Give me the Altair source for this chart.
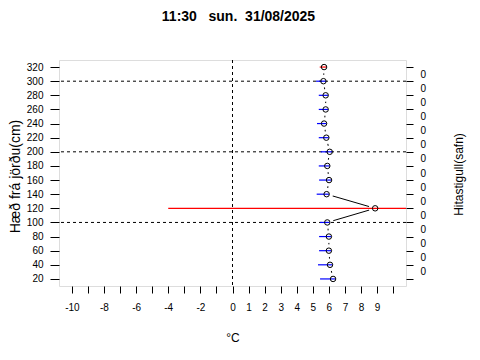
import altair as alt
import pandas as pd

# ---- data ----
heights = [320, 300, 280, 260, 240, 220, 200, 180, 160, 140, 120, 100, 80, 60, 40, 20]
temps = [5.70, 5.66, 5.80, 5.80, 5.70, 5.84, 6.05, 5.90, 6.01, 5.86, 8.88, 5.90, 6.00, 6.00, 6.07, 6.26]
seg_lo = [5.43, 5.20, 5.37, 5.37, 5.26, 5.37, 5.49, 5.37, 5.39, 5.24, -4.0, 5.45, 5.39, 5.39, 5.32, 5.45]
seg_hi = [5.85, 5.81, 5.95, 5.95, 5.85, 5.99, 6.20, 6.05, 6.16, 6.01, 12.0, 6.05, 6.15, 6.15, 6.22, 6.41]
seg_colors = ["red", "blue", "blue", "blue", "blue", "blue", "blue", "blue", "blue", "blue",
              "red", "blue", "blue", "blue", "blue", "blue"]
grid_heights = [100, 200, 300]
vline_x = [0]
x_ticks = list(range(-10, 11))
x_labels = [-10, -8, -6, -4, -2, 0, 1, 2, 3, 4, 5, 6, 7, 8, 9]
y_ticks = list(range(20, 321, 20))
right_label = "0"
title_text = "11:30\u00a0\u00a0\u00a0sun.\u00a0\u00a031/08/2025"

df = pd.DataFrame({"h": heights, "t": temps, "lo": seg_lo, "hi": seg_hi,
                   "col": seg_colors, "idx": list(range(len(heights)))})
grid_df = pd.DataFrame({"h": grid_heights})

FONT = "Liberation Sans"
W, H = 347, 226

xscale = alt.Scale(domain=[-10.8, 10.8], nice=False, zero=False)
yscale = alt.Scale(domain=[10, 330], nice=False, zero=False)

xaxis = alt.Axis(
    values=x_ticks,
    labelExpr="indexof([" + ",".join(str(v) for v in x_labels) + "], datum.value) >= 0 ? '' + datum.value : ''",
    title="°C", domain=False, grid=False, tickSize=7, tickColor="black",
    labelPadding=9, labelFontSize=10, labelFont=FONT, labelColor="black",
    labelFlush=False, labelOverlap=False,
    titleFont=FONT, titleFontSize=12, titleFontWeight="normal", titleColor="black",
    titleX=W / 2, titleY=51, titleBaseline="middle", titleAlign="center",
)

left_axis = alt.Axis(
    values=y_ticks, orient="left", domain=False, grid=False, tickSize=9, tickColor="black",
    labelPadding=7, labelFontSize=10, labelFont=FONT, labelColor="black",
    labelFlush=False, labelOverlap=False,
    title="Hæð frá jörðu(cm)", titleFont=FONT, titleFontSize=14, titleFontWeight="normal",
    titleColor="black", titleX=-44, titleY=116, titleAngle=270, titleAlign="center",
    titleBaseline="middle",
)

right_axis = alt.Axis(
    values=y_ticks, orient="right", domain=False, grid=False, tickSize=7, tickColor="black",
    labelPadding=7, labelFontSize=10, labelFont=FONT, labelColor="black",
    labelFlush=False, labelOverlap=False, labelOffset=-7,
    labelExpr="datum.value == 320 ? '' : '" + right_label + "'",
    title="Hitastigull(safn)", titleFont=FONT, titleFontSize=12, titleFontWeight="normal",
    titleColor="black", titleX=52, titleY=114, titleAngle=270, titleAlign="center",
    titleBaseline="middle",
)


def X(field):
    return alt.X(field, type="quantitative", scale=xscale, axis=xaxis)


def Y(field, axis=None):
    return alt.Y(field, type="quantitative", scale=yscale, axis=axis)


base = alt.Chart(df)

line = base.mark_line(color="black", strokeWidth=1).encode(
    x=X("t"), y=Y("h"), order="idx:Q")

mask = base.mark_point(shape="circle", filled=True, color="white", opacity=1, size=163).encode(
    x=X("t"), y=Y("h"))

grid = alt.Chart(grid_df).mark_rule(color="black", strokeWidth=1, strokeDash=[3, 3]).encode(
    y=Y("h", right_axis))

vline = alt.Chart(pd.DataFrame({"x": vline_x})).mark_rule(
    color="black", strokeWidth=1, strokeDash=[3, 3]).encode(x=X("x"))

segs = base.mark_rule(strokeWidth=1.2, clip=True).encode(
    x=X("lo"), x2="hi", y=Y("h"), color=alt.Color("col:N", scale=None))

pts = base.mark_point(shape="circle", filled=False, color="black", strokeWidth=1, size=30,
                      opacity=1).encode(x=X("t"), y=Y("h", left_axis))

chart = alt.layer(line, mask, grid, vline, segs, pts).resolve_scale(y="independent").properties(
    width=W, height=H,
    padding={"left": 51, "top": 52, "right": 66, "bottom": 66},
    autosize=alt.AutoSizeParams(type="none"),
    title=alt.TitleParams(title_text, font=FONT, fontSize=14, fontWeight="bold", color="black",
                          anchor="middle", frame="group", offset=20, baseline="alphabetic", dx=6),
).configure_view(stroke="black", strokeWidth=1).configure(background="white")

chart.save("out.html", embed_options={"renderer": "svg", "actions": False})
